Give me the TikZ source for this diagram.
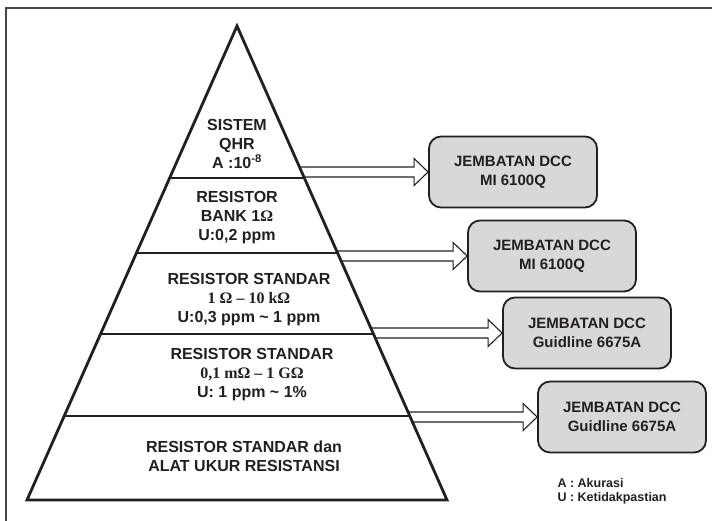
\documentclass[tikz,border=0pt]{standalone}
\usepackage{fontspec}
\setmainfont{Liberation Sans}
\newfontfamily\serifbold{Liberation Serif}
\usetikzlibrary{calc}

\definecolor{ink}{RGB}{35,31,32}
\definecolor{boxgray}{RGB}{216,216,219}
\definecolor{framegray}{RGB}{70,70,70}

\tikzset{
  tier/.style={align=center, font=\bfseries\fontsize{16}{19}\selectfont, text=ink},
  dccbox/.style={draw=ink, line width=1.8pt, fill=boxgray, rounded corners=12pt,
    minimum width=168pt, minimum height=71pt, align=center,
    font=\bfseries\fontsize{15}{19}\selectfont, text=ink},
  hollow/.style={draw=ink, line width=1.1pt, line join=miter},
  legend/.style={align=left, font=\bfseries\fontsize{12.5}{14}\selectfont, text=ink},
}

\begin{document}
\begin{tikzpicture}[x=1pt, y=-1pt]
    \useasboundingbox (0,0) rectangle (712,521);
    
    % Frame
    \draw[framegray, line width=1.6pt] (6,521) -- (6,8) -- (712,8);
    
    % Pyramid corners
    \coordinate (apex) at (237,26);
    \coordinate (bl) at (27,500);
    \coordinate (br) at (447,500);
    
    % Dividers
    \foreach \y in {178,253,334,416}
      \draw[ink, line width=1.4pt] ($(apex)!{(\y-26)/474}!(bl)$) -- ($(apex)!{(\y-26)/474}!(br)$);
    
    % Boxes
    \node[dccbox] (dcc1) at (513,172) {JEMBATAN DCC\\MI 6100Q};
    \node[dccbox] (dcc2) at (552,256) {JEMBATAN DCC\\MI 6100Q};
    \node[dccbox] (dcc3) at (587,333) {JEMBATAN DCC\\Guidline 6675A};
    \node[dccbox] (dcc4) at (622,417) {JEMBATAN DCC\\Guidline 6675A};
    
    % Arrows
    \foreach \i/\yc in {1/172,2/256,3/333,4/417}
      \draw[hollow] ($(apex)!{(\yc-5-26)/474}!(br)$) -- ($(dcc\i.west)+(-14,-5)$)
        -- ($(dcc\i.west)+(-14,-13.5)$) -- (dcc\i.west) -- ($(dcc\i.west)+(-14,13.5)$)
        -- ($(dcc\i.west)+(-14,5)$) -- ($(apex)!{(\yc+5-26)/474}!(br)$);
    
    % Pyramid
    \draw[ink, line width=2.8pt] (apex) -- (br) -- (bl) -- cycle;
    
    % Nodes
    \node[tier] (qhr) at (237,144) {SISTEM\\QHR\\A :10\textsuperscript{-8}};
    \node[tier] (bank) at (237,218) {RESISTOR\\BANK 1{\serifbold Ω}\\U:0,2 ppm};
    \node[tier] (std1) at (249,300) {RESISTOR STANDAR\\{\serifbold 1 Ω – 10 kΩ}\\U:0,3 ppm \textasciitilde{} 1 ppm};
    \node[tier] (std2) at (252,375) {RESISTOR STANDAR\\{\serifbold 0,1 mΩ – 1 GΩ}\\U: 1 ppm \textasciitilde{} 1\%};
    \node[tier] (alat) at (244,456) {RESISTOR STANDAR dan\\ALAT UKUR RESISTANSI};
    \node[legend, anchor=west] (ket) at (554,491) {A : Akurasi\\U : Ketidakpastian};
    
\end{tikzpicture}
\end{document}
